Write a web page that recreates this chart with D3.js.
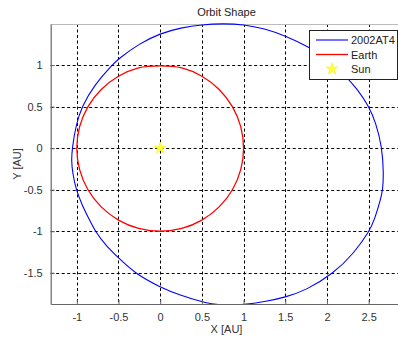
<!DOCTYPE html>
<html><head><meta charset="utf-8">
<script src="https://cdn.jsdelivr.net/npm/d3@7"></script>
<style>
html,body{margin:0;padding:0;background:#fff;}
svg{display:block;font-family:"Liberation Sans",Arial,sans-serif;}
</style></head>
<body><svg id="c" width="398" height="338"></svg>
<script>
const xTicks = [-1, -0.5, 0, 0.5, 1, 1.5, 2, 2.5];
const yTicks = [-1.5, -1, -0.5, 0, 0.5, 1];
const xTickLabels = ["-1", "-0.5", "0", "0.5", "1", "1.5", "2", "2.5"];
const yTickLabels = ["-1.5", "-1", "-0.5", "0", "0.5", "1"];
const asteroidX = [2.68, 2.67, 2.64, 2.57, 2.51, 2.32, 2.077, 1.75, 1.5, 1.25, 1.0, 0.8, 0.6, 0.5, 0.25, 0.0, -0.3, -0.5, -0.65, -0.78, -0.85, -0.93, -1.01, -1.05, -1.065, -1.055, -1.01, -0.94, -0.79, -0.57, -0.5, -0.25, 0.0, 0.25, 0.5, 0.75, 1.0, 1.25, 1.5, 1.8, 2.0, 2.22, 2.37, 2.505, 2.585, 2.66];
const asteroidY = [-0.3, -0.5, -0.63, -0.86, -1.0, -1.27, -1.51, -1.71, -1.795, -1.85, -1.885, -1.89, -1.876, -1.848, -1.775, -1.675, -1.51, -1.32, -1.175, -1.0, -0.86, -0.7, -0.5, -0.3, -0.15, 0.0, 0.28, 0.5, 0.76, 1.01, 1.075, 1.26, 1.382, 1.45, 1.488, 1.50, 1.49, 1.44, 1.353, 1.21, 1.08, 0.875, 0.705, 0.5, 0.31, 0.02];
const earthX = [1.0, 0.966, 0.866, 0.707, 0.5, 0.259, 0.0, -0.259, -0.5, -0.707, -0.866, -0.966, -1.0, -0.966, -0.866, -0.707, -0.5, -0.259, 0.0, 0.259, 0.5, 0.707, 0.866, 0.966];
const earthY = [0.0, 0.259, 0.5, 0.707, 0.866, 0.966, 0.99, 0.966, 0.866, 0.707, 0.5, 0.259, 0.0, -0.259, -0.5, -0.707, -0.866, -0.966, -1.0, -0.966, -0.866, -0.707, -0.5, -0.259];
const sunX = [0];
const sunY = [0];
const seriesNames = ["2002AT4", "Earth", "Sun"];

const svg = d3.select("#c");
const L = 50.7, R = 402, T = 24, B = 304;
const x = d3.scaleLinear().domain([-1.313, 2.9]).range([L, R]);
const y = d3.scaleLinear().domain([-1.876, 1.495]).range([B, T]);

svg.append("defs").append("clipPath").attr("id","clip")
  .append("rect").attr("x",L).attr("y",T-1).attr("width",R-L).attr("height",B-T+2);

// grid
const grid = svg.append("g");
grid.selectAll("line.gx").data(xTicks).join("line")
  .attr("x1", d=>Math.round(x(d))+0.5).attr("x2", d=>Math.round(x(d))+0.5)
  .attr("y1", T).attr("y2", B)
  .attr("stroke","#000").attr("stroke-width",1).attr("stroke-dasharray","3,2.5");
grid.selectAll("line.gy").data(yTicks).join("line")
  .attr("y1", d=>Math.round(y(d))+0.5).attr("y2", d=>Math.round(y(d))+0.5)
  .attr("x1", L).attr("x2", R)
  .attr("stroke","#000").attr("stroke-width",1).attr("stroke-dasharray","3,2.5");

// box top
svg.append("line").attr("x1",L).attr("x2",R).attr("y1",T+0.5).attr("y2",T+0.5)
  .attr("stroke","#bbb").attr("stroke-width",1);

const circ = d3.line().x(d=>x(d[0])).y(d=>y(d[1])).curve(d3.curveCatmullRomClosed.alpha(0.5));
const orbit = d3.line().x(d=>x(d[0])).y(d=>y(d[1])).curve(d3.curveBasisClosed);
const plot = svg.append("g").attr("clip-path","url(#clip)");
plot.append("path").datum(earthX.map((v,i)=>[v,earthY[i]]))
  .attr("d", circ).attr("fill","none").attr("stroke","#ff0000").attr("stroke-width",1.3);
plot.append("path").datum(asteroidX.map((v,i)=>[v,asteroidY[i]]))
  .attr("d", orbit).attr("fill","none").attr("stroke","#0000ff").attr("stroke-width",1.1);

const star = d3.symbol().type(d3.symbolStar).size(45);
plot.selectAll("path.sun").data(sunX.map((v,i)=>[v,sunY[i]])).join("path")
  .attr("transform", d=>`translate(${x(d[0])},${y(d[1])})`)
  .attr("d", star).attr("fill","#ffff40").attr("stroke","#f0f000").attr("stroke-width",0.5);

// axes
const xAxis = d3.axisBottom(x).tickValues(xTicks).tickFormat((d,i)=>xTickLabels[i]).tickSizeInner(-4).tickSizeOuter(0).tickPadding(9);
const yAxis = d3.axisLeft(y).tickValues(yTicks).tickFormat((d,i)=>yTickLabels[i]).tickSizeInner(-4).tickSizeOuter(0).tickPadding(8);
const gx = svg.append("g").attr("transform",`translate(0,${B})`).call(xAxis);
const gy = svg.append("g").attr("transform",`translate(${L},0)`).call(yAxis);
[gx,gy].forEach(g=>{
  g.select(".domain").attr("stroke","#666").attr("stroke-width",1.2);
  g.selectAll(".tick line").attr("stroke","#666");
  g.selectAll("text").attr("fill","#333").style("font-size","11px").style("font-family","'Liberation Sans',Arial,sans-serif");
});

// title & labels
svg.append("text").attr("x",226.5).attr("y",16).attr("text-anchor","middle")
  .attr("fill","#222").style("font-size","11px").text("Orbit Shape");
svg.append("text").attr("x",226.5).attr("y",333).attr("text-anchor","middle")
  .attr("fill","#333").style("font-size","11px").text("X [AU]");
svg.append("text").attr("transform","translate(21,164) rotate(-90)").attr("text-anchor","middle")
  .attr("fill","#333").style("font-size","11px").text("Y [AU]");

// legend
const lg = svg.append("g");
lg.append("rect").attr("x",309.5).attr("y",30.5).attr("width",88).attr("height",49)
  .attr("fill","#fff").attr("stroke","#222").attr("stroke-width",1);
const rows = [40, 54.5, 69];
lg.append("line").attr("x1",316).attr("x2",348).attr("y1",rows[0]).attr("y2",rows[0]).attr("stroke","#0000ff").attr("stroke-width",1.1);
lg.append("line").attr("x1",316).attr("x2",348).attr("y1",rows[1]).attr("y2",rows[1]).attr("stroke","#ff0000").attr("stroke-width",1.3);
lg.append("path").attr("transform",`translate(332,${rows[2]})`).attr("d",star)
  .attr("fill","#ffff40").attr("stroke","#f0f000").attr("stroke-width",0.5);
lg.selectAll("text").data(seriesNames).join("text")
  .attr("x",351).attr("y",(d,i)=>rows[i]+4).attr("fill","#222").style("font-size","11px").text(d=>d);
</script></body></html>
